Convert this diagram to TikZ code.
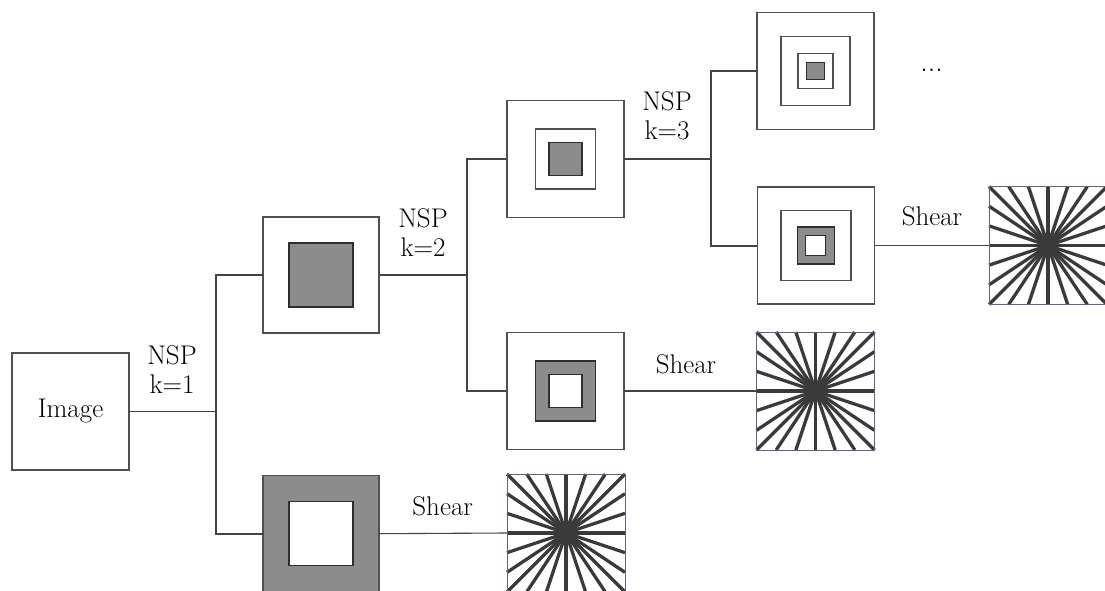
\documentclass[tikz,border=0pt]{standalone}
\usepackage{fontspec}
\usetikzlibrary{calc}
\definecolor{gfill}{HTML}{8C8C8C}
\definecolor{bline}{HTML}{505050}
\definecolor{dline}{HTML}{2E2E2E}
\definecolor{spokec}{HTML}{3A3A3A}
\definecolor{starframe}{HTML}{6E5C80}
\tikzset{
  box/.style={draw=bline, line width=1.4pt, minimum size=#1, inner sep=0pt, outer sep=0pt},
  box/.default=116pt,
  inbox/.style={draw=dline, line width=1.3pt, minimum size=#1, inner sep=0pt, outer sep=0pt},
  starbox/.style={draw=starframe, line width=0.8pt, minimum size=118pt, inner sep=0pt, outer sep=0pt},
  spoke/.style={draw=spokec, line width=3.3pt},
  thinline/.style={draw=dline!90, line width=1.1pt},
  thickline/.style={draw=dline!90, line width=2pt},
  lbl/.style={font=\fontsize{27}{29}\selectfont, align=center, inner sep=0pt},
}
\newcommand{\drawstar}[1]{%
  \foreach \i in {0,...,6} \draw[spoke] ($(#1.north west)!\i/6!(#1.north east)$) -- ($(#1.south east)!\i/6!(#1.south west)$);
  \foreach \j in {1,...,5} \draw[spoke] ($(#1.north west)!\j/6!(#1.south west)$) -- ($(#1.south east)!\j/6!(#1.north east)$);
  \draw[draw=starframe, line width=0.8pt] (#1.north west) rectangle (#1.south east);
}
\begin{document}
\begin{tikzpicture}[x=1pt, y=-1pt]
\useasboundingbox (0,0) rectangle (1105,591);

% junction coordinates
\coordinate (j1) at (216,411);
\coordinate (j2) at (466.7,274);
\coordinate (j3) at (710.7,157);

% input image
\node[box=117pt, lbl] (img) at (70.5,411.5) {Image};

% level 1
\node[box] (b1t) at (321,275) {};
\node[inbox=64pt, fill=gfill] (b1ti) at (b1t) {};
\node[box, fill=gfill] (b1b) at (321,533.7) {};
\node[inbox=64pt, fill=white] (b1bi) at (b1b) {};

% level 2
\node[box=117pt] (b2t) at (565.5,159) {};
\node[box=60pt] (b2tm) at (b2t) {};
\node[inbox=33pt, fill=gfill] (b2ti) at (b2t) {};
\node[box=117pt] (b2b) at (565.5,391) {};
\node[inbox=60pt, fill=gfill] (b2bm) at (b2b) {};
\node[inbox=33pt, fill=white] (b2bi) at (b2b) {};

% level 3
\node[box=117pt] (b3t) at (815.5,71) {};
\node[box=69pt] (b3tm) at (b3t) {};
\node[box=35pt] (b3tn) at (b3t) {};
\node[inbox=17.5pt, fill=gfill] (b3ti) at (b3t) {};
\node[box=117pt] (b3b) at (815.8,245.5) {};
\node[box=70pt] (b3bm) at (b3b) {};
\node[inbox=37pt, fill=gfill] (b3bn) at (b3b) {};
\node[inbox=20pt, fill=white] (b3bi) at (b3b) {};

\node[font=\fontsize{30}{32}\selectfont, inner sep=0pt, anchor=base] (dots) at (931.7,72) {...};

% shear stars
\node[starbox] (s1) at (566,533) {};
\drawstar{s1}
\node[starbox] (s2) at (815.5,391) {};
\drawstar{s2}
\node[starbox] (s3) at (1048,245.5) {};
\drawstar{s3}

% connectors level 1
\draw[thinline] (img.east) -- (img.east -| j1);
\draw[thickline] (b1t.west) -| (j1) |- (b1b.west);
\node[lbl] (nsp1) at (172,370) {NSP\\k=1};

% level 2
\draw[thinline] (b1t.east) -- (b1t.east -| j2);
\draw[thickline] (b2t.west) -| (j2) |- (b2b.west);
\node[lbl] (nsp2) at (423,233) {NSP\\k=2};

% level 3
\draw[thinline] (b2t.east) -- (b2t.east -| j3);
\draw[thickline] (b3t.west) -| (j3) |- (b3b.west);
\node[lbl] (nsp3) at (667,116) {NSP\\k=3};

% shear connectors
\draw[thinline] (b1b.east) -- (s1.west);
\node[lbl, anchor=base] (sh1) at (442.7,515) {Shear};
\draw[thinline] (b2b.east) -- (s2.west);
\node[lbl, anchor=base] (sh2) at (686,373) {Shear};
\draw[thinline] (b3b.east) -- (s3.west);
\node[lbl, anchor=base] (sh3) at (932,225) {Shear};
\end{tikzpicture}
\end{document}
